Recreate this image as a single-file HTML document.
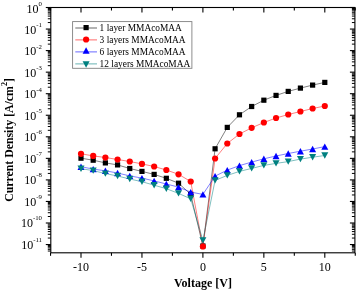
<!DOCTYPE html>
<html><head><meta charset="utf-8"><style>
html,body{margin:0;padding:0;background:#fff;}
svg{display:block;will-change:transform;}
text{font-family:"Liberation Serif",serif;fill:#000;}
</style></head><body>
<svg width="357" height="290" viewBox="0 0 357 290">
<rect width="357" height="290" fill="#fff"/>
<polyline points="81.00,158.20 93.19,160.20 105.38,162.90 117.57,164.90 129.76,168.50 141.95,171.40 154.14,174.40 166.33,178.30 178.52,183.20 190.71,194.30 202.90,246.00 215.09,148.80 227.28,127.40 239.47,114.80 251.66,106.50 263.85,100.20 276.04,95.40 288.23,91.40 300.42,88.10 312.61,85.10 324.80,82.40" fill="none" stroke="#000" stroke-width="0.5"/><rect x="78.40" y="155.60" width="5.2" height="5.2" fill="#000000"/><rect x="90.59" y="157.60" width="5.2" height="5.2" fill="#000000"/><rect x="102.78" y="160.30" width="5.2" height="5.2" fill="#000000"/><rect x="114.97" y="162.30" width="5.2" height="5.2" fill="#000000"/><rect x="127.16" y="165.90" width="5.2" height="5.2" fill="#000000"/><rect x="139.35" y="168.80" width="5.2" height="5.2" fill="#000000"/><rect x="151.54" y="171.80" width="5.2" height="5.2" fill="#000000"/><rect x="163.73" y="175.70" width="5.2" height="5.2" fill="#000000"/><rect x="175.92" y="180.60" width="5.2" height="5.2" fill="#000000"/><rect x="188.11" y="191.70" width="5.2" height="5.2" fill="#000000"/><rect x="200.30" y="243.40" width="5.2" height="5.2" fill="#000000"/><rect x="212.49" y="146.20" width="5.2" height="5.2" fill="#000000"/><rect x="224.68" y="124.80" width="5.2" height="5.2" fill="#000000"/><rect x="236.87" y="112.20" width="5.2" height="5.2" fill="#000000"/><rect x="249.06" y="103.90" width="5.2" height="5.2" fill="#000000"/><rect x="261.25" y="97.60" width="5.2" height="5.2" fill="#000000"/><rect x="273.44" y="92.80" width="5.2" height="5.2" fill="#000000"/><rect x="285.63" y="88.80" width="5.2" height="5.2" fill="#000000"/><rect x="297.82" y="85.50" width="5.2" height="5.2" fill="#000000"/><rect x="310.01" y="82.50" width="5.2" height="5.2" fill="#000000"/><rect x="322.20" y="79.80" width="5.2" height="5.2" fill="#000000"/>
<polyline points="81.00,153.80 93.19,155.90 105.38,157.50 117.57,159.50 129.76,161.50 141.95,163.90 154.14,166.50 166.33,170.00 178.52,174.30 190.71,181.50 202.90,246.50 215.09,158.50 227.28,143.50 239.47,134.00 251.66,127.80 263.85,122.50 276.04,118.00 288.23,114.50 300.42,111.50 312.61,108.50 324.80,106.00" fill="none" stroke="#ff0000" stroke-width="0.5"/><circle cx="81.00" cy="153.80" r="3.1" fill="#ff0000"/><circle cx="93.19" cy="155.90" r="3.1" fill="#ff0000"/><circle cx="105.38" cy="157.50" r="3.1" fill="#ff0000"/><circle cx="117.57" cy="159.50" r="3.1" fill="#ff0000"/><circle cx="129.76" cy="161.50" r="3.1" fill="#ff0000"/><circle cx="141.95" cy="163.90" r="3.1" fill="#ff0000"/><circle cx="154.14" cy="166.50" r="3.1" fill="#ff0000"/><circle cx="166.33" cy="170.00" r="3.1" fill="#ff0000"/><circle cx="178.52" cy="174.30" r="3.1" fill="#ff0000"/><circle cx="190.71" cy="181.50" r="3.1" fill="#ff0000"/><circle cx="202.90" cy="246.50" r="3.1" fill="#ff0000"/><circle cx="215.09" cy="158.50" r="3.1" fill="#ff0000"/><circle cx="227.28" cy="143.50" r="3.1" fill="#ff0000"/><circle cx="239.47" cy="134.00" r="3.1" fill="#ff0000"/><circle cx="251.66" cy="127.80" r="3.1" fill="#ff0000"/><circle cx="263.85" cy="122.50" r="3.1" fill="#ff0000"/><circle cx="276.04" cy="118.00" r="3.1" fill="#ff0000"/><circle cx="288.23" cy="114.50" r="3.1" fill="#ff0000"/><circle cx="300.42" cy="111.50" r="3.1" fill="#ff0000"/><circle cx="312.61" cy="108.50" r="3.1" fill="#ff0000"/><circle cx="324.80" cy="106.00" r="3.1" fill="#ff0000"/>
<polyline points="81.00,166.70 93.19,169.10 105.38,170.80 117.57,173.00 129.76,175.90 141.95,178.10 154.14,180.90 166.33,184.00 178.52,187.10 190.71,192.10 202.90,194.40 215.09,176.10 227.28,170.10 239.47,165.60 251.66,162.10 263.85,158.80 276.04,156.00 288.23,153.50 300.42,151.20 312.61,149.00 324.80,146.60" fill="none" stroke="#0000ff" stroke-width="0.5"/><path d="M81.00 163.50L84.50 169.90L77.50 169.90Z" fill="#0000ff"/><path d="M93.19 165.90L96.69 172.30L89.69 172.30Z" fill="#0000ff"/><path d="M105.38 167.60L108.88 174.00L101.88 174.00Z" fill="#0000ff"/><path d="M117.57 169.80L121.07 176.20L114.07 176.20Z" fill="#0000ff"/><path d="M129.76 172.70L133.26 179.10L126.26 179.10Z" fill="#0000ff"/><path d="M141.95 174.90L145.45 181.30L138.45 181.30Z" fill="#0000ff"/><path d="M154.14 177.70L157.64 184.10L150.64 184.10Z" fill="#0000ff"/><path d="M166.33 180.80L169.83 187.20L162.83 187.20Z" fill="#0000ff"/><path d="M178.52 183.90L182.02 190.30L175.02 190.30Z" fill="#0000ff"/><path d="M190.71 188.90L194.21 195.30L187.21 195.30Z" fill="#0000ff"/><path d="M202.90 191.20L206.40 197.60L199.40 197.60Z" fill="#0000ff"/><path d="M215.09 172.90L218.59 179.30L211.59 179.30Z" fill="#0000ff"/><path d="M227.28 166.90L230.78 173.30L223.78 173.30Z" fill="#0000ff"/><path d="M239.47 162.40L242.97 168.80L235.97 168.80Z" fill="#0000ff"/><path d="M251.66 158.90L255.16 165.30L248.16 165.30Z" fill="#0000ff"/><path d="M263.85 155.60L267.35 162.00L260.35 162.00Z" fill="#0000ff"/><path d="M276.04 152.80L279.54 159.20L272.54 159.20Z" fill="#0000ff"/><path d="M288.23 150.30L291.73 156.70L284.73 156.70Z" fill="#0000ff"/><path d="M300.42 148.00L303.92 154.40L296.92 154.40Z" fill="#0000ff"/><path d="M312.61 145.80L316.11 152.20L309.11 152.20Z" fill="#0000ff"/><path d="M324.80 143.40L328.30 149.80L321.30 149.80Z" fill="#0000ff"/>
<polyline points="81.00,168.70 93.19,170.60 105.38,173.60 117.57,176.00 129.76,179.00 141.95,181.70 154.14,185.20 166.33,188.70 178.52,193.40 190.71,198.80 202.90,240.40 215.09,180.40 227.28,175.40 239.47,171.40 251.66,168.40 263.85,165.40 276.04,163.40 288.23,161.60 300.42,159.10 312.61,157.20 324.80,155.50" fill="none" stroke="#008080" stroke-width="0.5"/><path d="M77.50 165.50L84.50 165.50L81.00 171.90Z" fill="#008080"/><path d="M89.69 167.40L96.69 167.40L93.19 173.80Z" fill="#008080"/><path d="M101.88 170.40L108.88 170.40L105.38 176.80Z" fill="#008080"/><path d="M114.07 172.80L121.07 172.80L117.57 179.20Z" fill="#008080"/><path d="M126.26 175.80L133.26 175.80L129.76 182.20Z" fill="#008080"/><path d="M138.45 178.50L145.45 178.50L141.95 184.90Z" fill="#008080"/><path d="M150.64 182.00L157.64 182.00L154.14 188.40Z" fill="#008080"/><path d="M162.83 185.50L169.83 185.50L166.33 191.90Z" fill="#008080"/><path d="M175.02 190.20L182.02 190.20L178.52 196.60Z" fill="#008080"/><path d="M187.21 195.60L194.21 195.60L190.71 202.00Z" fill="#008080"/><path d="M199.40 237.20L206.40 237.20L202.90 243.60Z" fill="#008080"/><path d="M211.59 177.20L218.59 177.20L215.09 183.60Z" fill="#008080"/><path d="M223.78 172.20L230.78 172.20L227.28 178.60Z" fill="#008080"/><path d="M235.97 168.20L242.97 168.20L239.47 174.60Z" fill="#008080"/><path d="M248.16 165.20L255.16 165.20L251.66 171.60Z" fill="#008080"/><path d="M260.35 162.20L267.35 162.20L263.85 168.60Z" fill="#008080"/><path d="M272.54 160.20L279.54 160.20L276.04 166.60Z" fill="#008080"/><path d="M284.73 158.40L291.73 158.40L288.23 164.80Z" fill="#008080"/><path d="M296.92 155.90L303.92 155.90L300.42 162.30Z" fill="#008080"/><path d="M309.11 154.00L316.11 154.00L312.61 160.40Z" fill="#008080"/><path d="M321.30 152.30L328.30 152.30L324.80 158.70Z" fill="#008080"/>
<rect x="50.80" y="7.50" width="304.10" height="245.30" fill="none" stroke="#000" stroke-width="1.1"/>
<line x1="81.00" y1="252.80" x2="81.00" y2="257.80" stroke="#000" stroke-width="1.1"/>
<line x1="81.00" y1="7.50" x2="81.00" y2="12.50" stroke="#000" stroke-width="1.1"/>
<line x1="141.95" y1="252.80" x2="141.95" y2="257.80" stroke="#000" stroke-width="1.1"/>
<line x1="141.95" y1="7.50" x2="141.95" y2="12.50" stroke="#000" stroke-width="1.1"/>
<line x1="202.90" y1="252.80" x2="202.90" y2="257.80" stroke="#000" stroke-width="1.1"/>
<line x1="202.90" y1="7.50" x2="202.90" y2="12.50" stroke="#000" stroke-width="1.1"/>
<line x1="263.85" y1="252.80" x2="263.85" y2="257.80" stroke="#000" stroke-width="1.1"/>
<line x1="263.85" y1="7.50" x2="263.85" y2="12.50" stroke="#000" stroke-width="1.1"/>
<line x1="324.80" y1="252.80" x2="324.80" y2="257.80" stroke="#000" stroke-width="1.1"/>
<line x1="324.80" y1="7.50" x2="324.80" y2="12.50" stroke="#000" stroke-width="1.1"/>
<line x1="50.53" y1="252.80" x2="50.53" y2="255.80" stroke="#000" stroke-width="1.1"/>
<line x1="50.53" y1="7.50" x2="50.53" y2="10.50" stroke="#000" stroke-width="1.1"/>
<line x1="111.48" y1="252.80" x2="111.48" y2="255.80" stroke="#000" stroke-width="1.1"/>
<line x1="111.48" y1="7.50" x2="111.48" y2="10.50" stroke="#000" stroke-width="1.1"/>
<line x1="172.43" y1="252.80" x2="172.43" y2="255.80" stroke="#000" stroke-width="1.1"/>
<line x1="172.43" y1="7.50" x2="172.43" y2="10.50" stroke="#000" stroke-width="1.1"/>
<line x1="233.38" y1="252.80" x2="233.38" y2="255.80" stroke="#000" stroke-width="1.1"/>
<line x1="233.38" y1="7.50" x2="233.38" y2="10.50" stroke="#000" stroke-width="1.1"/>
<line x1="294.32" y1="252.80" x2="294.32" y2="255.80" stroke="#000" stroke-width="1.1"/>
<line x1="294.32" y1="7.50" x2="294.32" y2="10.50" stroke="#000" stroke-width="1.1"/>
<line x1="355.27" y1="252.80" x2="355.27" y2="255.80" stroke="#000" stroke-width="1.1"/>
<line x1="355.27" y1="7.50" x2="355.27" y2="10.50" stroke="#000" stroke-width="1.1"/>
<line x1="45.80" y1="7.50" x2="50.80" y2="7.50" stroke="#000" stroke-width="1.1"/>
<line x1="349.90" y1="7.50" x2="354.90" y2="7.50" stroke="#000" stroke-width="1.1"/>
<line x1="45.80" y1="29.05" x2="50.80" y2="29.05" stroke="#000" stroke-width="1.1"/>
<line x1="349.90" y1="29.05" x2="354.90" y2="29.05" stroke="#000" stroke-width="1.1"/>
<line x1="45.80" y1="50.60" x2="50.80" y2="50.60" stroke="#000" stroke-width="1.1"/>
<line x1="349.90" y1="50.60" x2="354.90" y2="50.60" stroke="#000" stroke-width="1.1"/>
<line x1="45.80" y1="72.15" x2="50.80" y2="72.15" stroke="#000" stroke-width="1.1"/>
<line x1="349.90" y1="72.15" x2="354.90" y2="72.15" stroke="#000" stroke-width="1.1"/>
<line x1="45.80" y1="93.70" x2="50.80" y2="93.70" stroke="#000" stroke-width="1.1"/>
<line x1="349.90" y1="93.70" x2="354.90" y2="93.70" stroke="#000" stroke-width="1.1"/>
<line x1="45.80" y1="115.25" x2="50.80" y2="115.25" stroke="#000" stroke-width="1.1"/>
<line x1="349.90" y1="115.25" x2="354.90" y2="115.25" stroke="#000" stroke-width="1.1"/>
<line x1="45.80" y1="136.80" x2="50.80" y2="136.80" stroke="#000" stroke-width="1.1"/>
<line x1="349.90" y1="136.80" x2="354.90" y2="136.80" stroke="#000" stroke-width="1.1"/>
<line x1="45.80" y1="158.35" x2="50.80" y2="158.35" stroke="#000" stroke-width="1.1"/>
<line x1="349.90" y1="158.35" x2="354.90" y2="158.35" stroke="#000" stroke-width="1.1"/>
<line x1="45.80" y1="179.90" x2="50.80" y2="179.90" stroke="#000" stroke-width="1.1"/>
<line x1="349.90" y1="179.90" x2="354.90" y2="179.90" stroke="#000" stroke-width="1.1"/>
<line x1="45.80" y1="201.45" x2="50.80" y2="201.45" stroke="#000" stroke-width="1.1"/>
<line x1="349.90" y1="201.45" x2="354.90" y2="201.45" stroke="#000" stroke-width="1.1"/>
<line x1="45.80" y1="223.00" x2="50.80" y2="223.00" stroke="#000" stroke-width="1.1"/>
<line x1="349.90" y1="223.00" x2="354.90" y2="223.00" stroke="#000" stroke-width="1.1"/>
<line x1="45.80" y1="244.55" x2="50.80" y2="244.55" stroke="#000" stroke-width="1.1"/>
<line x1="349.90" y1="244.55" x2="354.90" y2="244.55" stroke="#000" stroke-width="1.1"/>
<line x1="47.80" y1="22.56" x2="50.80" y2="22.56" stroke="#000" stroke-width="1"/>
<line x1="351.90" y1="22.56" x2="354.90" y2="22.56" stroke="#000" stroke-width="1"/>
<line x1="47.80" y1="18.77" x2="50.80" y2="18.77" stroke="#000" stroke-width="1"/>
<line x1="351.90" y1="18.77" x2="354.90" y2="18.77" stroke="#000" stroke-width="1"/>
<line x1="47.80" y1="16.08" x2="50.80" y2="16.08" stroke="#000" stroke-width="1"/>
<line x1="351.90" y1="16.08" x2="354.90" y2="16.08" stroke="#000" stroke-width="1"/>
<line x1="47.80" y1="13.99" x2="50.80" y2="13.99" stroke="#000" stroke-width="1"/>
<line x1="351.90" y1="13.99" x2="354.90" y2="13.99" stroke="#000" stroke-width="1"/>
<line x1="47.80" y1="12.28" x2="50.80" y2="12.28" stroke="#000" stroke-width="1"/>
<line x1="351.90" y1="12.28" x2="354.90" y2="12.28" stroke="#000" stroke-width="1"/>
<line x1="47.80" y1="10.84" x2="50.80" y2="10.84" stroke="#000" stroke-width="1"/>
<line x1="351.90" y1="10.84" x2="354.90" y2="10.84" stroke="#000" stroke-width="1"/>
<line x1="47.80" y1="9.59" x2="50.80" y2="9.59" stroke="#000" stroke-width="1"/>
<line x1="351.90" y1="9.59" x2="354.90" y2="9.59" stroke="#000" stroke-width="1"/>
<line x1="47.80" y1="8.49" x2="50.80" y2="8.49" stroke="#000" stroke-width="1"/>
<line x1="351.90" y1="8.49" x2="354.90" y2="8.49" stroke="#000" stroke-width="1"/>
<line x1="47.80" y1="44.11" x2="50.80" y2="44.11" stroke="#000" stroke-width="1"/>
<line x1="351.90" y1="44.11" x2="354.90" y2="44.11" stroke="#000" stroke-width="1"/>
<line x1="47.80" y1="40.32" x2="50.80" y2="40.32" stroke="#000" stroke-width="1"/>
<line x1="351.90" y1="40.32" x2="354.90" y2="40.32" stroke="#000" stroke-width="1"/>
<line x1="47.80" y1="37.63" x2="50.80" y2="37.63" stroke="#000" stroke-width="1"/>
<line x1="351.90" y1="37.63" x2="354.90" y2="37.63" stroke="#000" stroke-width="1"/>
<line x1="47.80" y1="35.54" x2="50.80" y2="35.54" stroke="#000" stroke-width="1"/>
<line x1="351.90" y1="35.54" x2="354.90" y2="35.54" stroke="#000" stroke-width="1"/>
<line x1="47.80" y1="33.83" x2="50.80" y2="33.83" stroke="#000" stroke-width="1"/>
<line x1="351.90" y1="33.83" x2="354.90" y2="33.83" stroke="#000" stroke-width="1"/>
<line x1="47.80" y1="32.39" x2="50.80" y2="32.39" stroke="#000" stroke-width="1"/>
<line x1="351.90" y1="32.39" x2="354.90" y2="32.39" stroke="#000" stroke-width="1"/>
<line x1="47.80" y1="31.14" x2="50.80" y2="31.14" stroke="#000" stroke-width="1"/>
<line x1="351.90" y1="31.14" x2="354.90" y2="31.14" stroke="#000" stroke-width="1"/>
<line x1="47.80" y1="30.04" x2="50.80" y2="30.04" stroke="#000" stroke-width="1"/>
<line x1="351.90" y1="30.04" x2="354.90" y2="30.04" stroke="#000" stroke-width="1"/>
<line x1="47.80" y1="65.66" x2="50.80" y2="65.66" stroke="#000" stroke-width="1"/>
<line x1="351.90" y1="65.66" x2="354.90" y2="65.66" stroke="#000" stroke-width="1"/>
<line x1="47.80" y1="61.87" x2="50.80" y2="61.87" stroke="#000" stroke-width="1"/>
<line x1="351.90" y1="61.87" x2="354.90" y2="61.87" stroke="#000" stroke-width="1"/>
<line x1="47.80" y1="59.18" x2="50.80" y2="59.18" stroke="#000" stroke-width="1"/>
<line x1="351.90" y1="59.18" x2="354.90" y2="59.18" stroke="#000" stroke-width="1"/>
<line x1="47.80" y1="57.09" x2="50.80" y2="57.09" stroke="#000" stroke-width="1"/>
<line x1="351.90" y1="57.09" x2="354.90" y2="57.09" stroke="#000" stroke-width="1"/>
<line x1="47.80" y1="55.38" x2="50.80" y2="55.38" stroke="#000" stroke-width="1"/>
<line x1="351.90" y1="55.38" x2="354.90" y2="55.38" stroke="#000" stroke-width="1"/>
<line x1="47.80" y1="53.94" x2="50.80" y2="53.94" stroke="#000" stroke-width="1"/>
<line x1="351.90" y1="53.94" x2="354.90" y2="53.94" stroke="#000" stroke-width="1"/>
<line x1="47.80" y1="52.69" x2="50.80" y2="52.69" stroke="#000" stroke-width="1"/>
<line x1="351.90" y1="52.69" x2="354.90" y2="52.69" stroke="#000" stroke-width="1"/>
<line x1="47.80" y1="51.59" x2="50.80" y2="51.59" stroke="#000" stroke-width="1"/>
<line x1="351.90" y1="51.59" x2="354.90" y2="51.59" stroke="#000" stroke-width="1"/>
<line x1="47.80" y1="87.21" x2="50.80" y2="87.21" stroke="#000" stroke-width="1"/>
<line x1="351.90" y1="87.21" x2="354.90" y2="87.21" stroke="#000" stroke-width="1"/>
<line x1="47.80" y1="83.42" x2="50.80" y2="83.42" stroke="#000" stroke-width="1"/>
<line x1="351.90" y1="83.42" x2="354.90" y2="83.42" stroke="#000" stroke-width="1"/>
<line x1="47.80" y1="80.73" x2="50.80" y2="80.73" stroke="#000" stroke-width="1"/>
<line x1="351.90" y1="80.73" x2="354.90" y2="80.73" stroke="#000" stroke-width="1"/>
<line x1="47.80" y1="78.64" x2="50.80" y2="78.64" stroke="#000" stroke-width="1"/>
<line x1="351.90" y1="78.64" x2="354.90" y2="78.64" stroke="#000" stroke-width="1"/>
<line x1="47.80" y1="76.93" x2="50.80" y2="76.93" stroke="#000" stroke-width="1"/>
<line x1="351.90" y1="76.93" x2="354.90" y2="76.93" stroke="#000" stroke-width="1"/>
<line x1="47.80" y1="75.49" x2="50.80" y2="75.49" stroke="#000" stroke-width="1"/>
<line x1="351.90" y1="75.49" x2="354.90" y2="75.49" stroke="#000" stroke-width="1"/>
<line x1="47.80" y1="74.24" x2="50.80" y2="74.24" stroke="#000" stroke-width="1"/>
<line x1="351.90" y1="74.24" x2="354.90" y2="74.24" stroke="#000" stroke-width="1"/>
<line x1="47.80" y1="73.14" x2="50.80" y2="73.14" stroke="#000" stroke-width="1"/>
<line x1="351.90" y1="73.14" x2="354.90" y2="73.14" stroke="#000" stroke-width="1"/>
<line x1="47.80" y1="108.76" x2="50.80" y2="108.76" stroke="#000" stroke-width="1"/>
<line x1="351.90" y1="108.76" x2="354.90" y2="108.76" stroke="#000" stroke-width="1"/>
<line x1="47.80" y1="104.97" x2="50.80" y2="104.97" stroke="#000" stroke-width="1"/>
<line x1="351.90" y1="104.97" x2="354.90" y2="104.97" stroke="#000" stroke-width="1"/>
<line x1="47.80" y1="102.28" x2="50.80" y2="102.28" stroke="#000" stroke-width="1"/>
<line x1="351.90" y1="102.28" x2="354.90" y2="102.28" stroke="#000" stroke-width="1"/>
<line x1="47.80" y1="100.19" x2="50.80" y2="100.19" stroke="#000" stroke-width="1"/>
<line x1="351.90" y1="100.19" x2="354.90" y2="100.19" stroke="#000" stroke-width="1"/>
<line x1="47.80" y1="98.48" x2="50.80" y2="98.48" stroke="#000" stroke-width="1"/>
<line x1="351.90" y1="98.48" x2="354.90" y2="98.48" stroke="#000" stroke-width="1"/>
<line x1="47.80" y1="97.04" x2="50.80" y2="97.04" stroke="#000" stroke-width="1"/>
<line x1="351.90" y1="97.04" x2="354.90" y2="97.04" stroke="#000" stroke-width="1"/>
<line x1="47.80" y1="95.79" x2="50.80" y2="95.79" stroke="#000" stroke-width="1"/>
<line x1="351.90" y1="95.79" x2="354.90" y2="95.79" stroke="#000" stroke-width="1"/>
<line x1="47.80" y1="94.69" x2="50.80" y2="94.69" stroke="#000" stroke-width="1"/>
<line x1="351.90" y1="94.69" x2="354.90" y2="94.69" stroke="#000" stroke-width="1"/>
<line x1="47.80" y1="130.31" x2="50.80" y2="130.31" stroke="#000" stroke-width="1"/>
<line x1="351.90" y1="130.31" x2="354.90" y2="130.31" stroke="#000" stroke-width="1"/>
<line x1="47.80" y1="126.52" x2="50.80" y2="126.52" stroke="#000" stroke-width="1"/>
<line x1="351.90" y1="126.52" x2="354.90" y2="126.52" stroke="#000" stroke-width="1"/>
<line x1="47.80" y1="123.83" x2="50.80" y2="123.83" stroke="#000" stroke-width="1"/>
<line x1="351.90" y1="123.83" x2="354.90" y2="123.83" stroke="#000" stroke-width="1"/>
<line x1="47.80" y1="121.74" x2="50.80" y2="121.74" stroke="#000" stroke-width="1"/>
<line x1="351.90" y1="121.74" x2="354.90" y2="121.74" stroke="#000" stroke-width="1"/>
<line x1="47.80" y1="120.03" x2="50.80" y2="120.03" stroke="#000" stroke-width="1"/>
<line x1="351.90" y1="120.03" x2="354.90" y2="120.03" stroke="#000" stroke-width="1"/>
<line x1="47.80" y1="118.59" x2="50.80" y2="118.59" stroke="#000" stroke-width="1"/>
<line x1="351.90" y1="118.59" x2="354.90" y2="118.59" stroke="#000" stroke-width="1"/>
<line x1="47.80" y1="117.34" x2="50.80" y2="117.34" stroke="#000" stroke-width="1"/>
<line x1="351.90" y1="117.34" x2="354.90" y2="117.34" stroke="#000" stroke-width="1"/>
<line x1="47.80" y1="116.24" x2="50.80" y2="116.24" stroke="#000" stroke-width="1"/>
<line x1="351.90" y1="116.24" x2="354.90" y2="116.24" stroke="#000" stroke-width="1"/>
<line x1="47.80" y1="151.86" x2="50.80" y2="151.86" stroke="#000" stroke-width="1"/>
<line x1="351.90" y1="151.86" x2="354.90" y2="151.86" stroke="#000" stroke-width="1"/>
<line x1="47.80" y1="148.07" x2="50.80" y2="148.07" stroke="#000" stroke-width="1"/>
<line x1="351.90" y1="148.07" x2="354.90" y2="148.07" stroke="#000" stroke-width="1"/>
<line x1="47.80" y1="145.38" x2="50.80" y2="145.38" stroke="#000" stroke-width="1"/>
<line x1="351.90" y1="145.38" x2="354.90" y2="145.38" stroke="#000" stroke-width="1"/>
<line x1="47.80" y1="143.29" x2="50.80" y2="143.29" stroke="#000" stroke-width="1"/>
<line x1="351.90" y1="143.29" x2="354.90" y2="143.29" stroke="#000" stroke-width="1"/>
<line x1="47.80" y1="141.58" x2="50.80" y2="141.58" stroke="#000" stroke-width="1"/>
<line x1="351.90" y1="141.58" x2="354.90" y2="141.58" stroke="#000" stroke-width="1"/>
<line x1="47.80" y1="140.14" x2="50.80" y2="140.14" stroke="#000" stroke-width="1"/>
<line x1="351.90" y1="140.14" x2="354.90" y2="140.14" stroke="#000" stroke-width="1"/>
<line x1="47.80" y1="138.89" x2="50.80" y2="138.89" stroke="#000" stroke-width="1"/>
<line x1="351.90" y1="138.89" x2="354.90" y2="138.89" stroke="#000" stroke-width="1"/>
<line x1="47.80" y1="137.79" x2="50.80" y2="137.79" stroke="#000" stroke-width="1"/>
<line x1="351.90" y1="137.79" x2="354.90" y2="137.79" stroke="#000" stroke-width="1"/>
<line x1="47.80" y1="173.41" x2="50.80" y2="173.41" stroke="#000" stroke-width="1"/>
<line x1="351.90" y1="173.41" x2="354.90" y2="173.41" stroke="#000" stroke-width="1"/>
<line x1="47.80" y1="169.62" x2="50.80" y2="169.62" stroke="#000" stroke-width="1"/>
<line x1="351.90" y1="169.62" x2="354.90" y2="169.62" stroke="#000" stroke-width="1"/>
<line x1="47.80" y1="166.93" x2="50.80" y2="166.93" stroke="#000" stroke-width="1"/>
<line x1="351.90" y1="166.93" x2="354.90" y2="166.93" stroke="#000" stroke-width="1"/>
<line x1="47.80" y1="164.84" x2="50.80" y2="164.84" stroke="#000" stroke-width="1"/>
<line x1="351.90" y1="164.84" x2="354.90" y2="164.84" stroke="#000" stroke-width="1"/>
<line x1="47.80" y1="163.13" x2="50.80" y2="163.13" stroke="#000" stroke-width="1"/>
<line x1="351.90" y1="163.13" x2="354.90" y2="163.13" stroke="#000" stroke-width="1"/>
<line x1="47.80" y1="161.69" x2="50.80" y2="161.69" stroke="#000" stroke-width="1"/>
<line x1="351.90" y1="161.69" x2="354.90" y2="161.69" stroke="#000" stroke-width="1"/>
<line x1="47.80" y1="160.44" x2="50.80" y2="160.44" stroke="#000" stroke-width="1"/>
<line x1="351.90" y1="160.44" x2="354.90" y2="160.44" stroke="#000" stroke-width="1"/>
<line x1="47.80" y1="159.34" x2="50.80" y2="159.34" stroke="#000" stroke-width="1"/>
<line x1="351.90" y1="159.34" x2="354.90" y2="159.34" stroke="#000" stroke-width="1"/>
<line x1="47.80" y1="194.96" x2="50.80" y2="194.96" stroke="#000" stroke-width="1"/>
<line x1="351.90" y1="194.96" x2="354.90" y2="194.96" stroke="#000" stroke-width="1"/>
<line x1="47.80" y1="191.17" x2="50.80" y2="191.17" stroke="#000" stroke-width="1"/>
<line x1="351.90" y1="191.17" x2="354.90" y2="191.17" stroke="#000" stroke-width="1"/>
<line x1="47.80" y1="188.48" x2="50.80" y2="188.48" stroke="#000" stroke-width="1"/>
<line x1="351.90" y1="188.48" x2="354.90" y2="188.48" stroke="#000" stroke-width="1"/>
<line x1="47.80" y1="186.39" x2="50.80" y2="186.39" stroke="#000" stroke-width="1"/>
<line x1="351.90" y1="186.39" x2="354.90" y2="186.39" stroke="#000" stroke-width="1"/>
<line x1="47.80" y1="184.68" x2="50.80" y2="184.68" stroke="#000" stroke-width="1"/>
<line x1="351.90" y1="184.68" x2="354.90" y2="184.68" stroke="#000" stroke-width="1"/>
<line x1="47.80" y1="183.24" x2="50.80" y2="183.24" stroke="#000" stroke-width="1"/>
<line x1="351.90" y1="183.24" x2="354.90" y2="183.24" stroke="#000" stroke-width="1"/>
<line x1="47.80" y1="181.99" x2="50.80" y2="181.99" stroke="#000" stroke-width="1"/>
<line x1="351.90" y1="181.99" x2="354.90" y2="181.99" stroke="#000" stroke-width="1"/>
<line x1="47.80" y1="180.89" x2="50.80" y2="180.89" stroke="#000" stroke-width="1"/>
<line x1="351.90" y1="180.89" x2="354.90" y2="180.89" stroke="#000" stroke-width="1"/>
<line x1="47.80" y1="216.51" x2="50.80" y2="216.51" stroke="#000" stroke-width="1"/>
<line x1="351.90" y1="216.51" x2="354.90" y2="216.51" stroke="#000" stroke-width="1"/>
<line x1="47.80" y1="212.72" x2="50.80" y2="212.72" stroke="#000" stroke-width="1"/>
<line x1="351.90" y1="212.72" x2="354.90" y2="212.72" stroke="#000" stroke-width="1"/>
<line x1="47.80" y1="210.03" x2="50.80" y2="210.03" stroke="#000" stroke-width="1"/>
<line x1="351.90" y1="210.03" x2="354.90" y2="210.03" stroke="#000" stroke-width="1"/>
<line x1="47.80" y1="207.94" x2="50.80" y2="207.94" stroke="#000" stroke-width="1"/>
<line x1="351.90" y1="207.94" x2="354.90" y2="207.94" stroke="#000" stroke-width="1"/>
<line x1="47.80" y1="206.23" x2="50.80" y2="206.23" stroke="#000" stroke-width="1"/>
<line x1="351.90" y1="206.23" x2="354.90" y2="206.23" stroke="#000" stroke-width="1"/>
<line x1="47.80" y1="204.79" x2="50.80" y2="204.79" stroke="#000" stroke-width="1"/>
<line x1="351.90" y1="204.79" x2="354.90" y2="204.79" stroke="#000" stroke-width="1"/>
<line x1="47.80" y1="203.54" x2="50.80" y2="203.54" stroke="#000" stroke-width="1"/>
<line x1="351.90" y1="203.54" x2="354.90" y2="203.54" stroke="#000" stroke-width="1"/>
<line x1="47.80" y1="202.44" x2="50.80" y2="202.44" stroke="#000" stroke-width="1"/>
<line x1="351.90" y1="202.44" x2="354.90" y2="202.44" stroke="#000" stroke-width="1"/>
<line x1="47.80" y1="238.06" x2="50.80" y2="238.06" stroke="#000" stroke-width="1"/>
<line x1="351.90" y1="238.06" x2="354.90" y2="238.06" stroke="#000" stroke-width="1"/>
<line x1="47.80" y1="234.27" x2="50.80" y2="234.27" stroke="#000" stroke-width="1"/>
<line x1="351.90" y1="234.27" x2="354.90" y2="234.27" stroke="#000" stroke-width="1"/>
<line x1="47.80" y1="231.58" x2="50.80" y2="231.58" stroke="#000" stroke-width="1"/>
<line x1="351.90" y1="231.58" x2="354.90" y2="231.58" stroke="#000" stroke-width="1"/>
<line x1="47.80" y1="229.49" x2="50.80" y2="229.49" stroke="#000" stroke-width="1"/>
<line x1="351.90" y1="229.49" x2="354.90" y2="229.49" stroke="#000" stroke-width="1"/>
<line x1="47.80" y1="227.78" x2="50.80" y2="227.78" stroke="#000" stroke-width="1"/>
<line x1="351.90" y1="227.78" x2="354.90" y2="227.78" stroke="#000" stroke-width="1"/>
<line x1="47.80" y1="226.34" x2="50.80" y2="226.34" stroke="#000" stroke-width="1"/>
<line x1="351.90" y1="226.34" x2="354.90" y2="226.34" stroke="#000" stroke-width="1"/>
<line x1="47.80" y1="225.09" x2="50.80" y2="225.09" stroke="#000" stroke-width="1"/>
<line x1="351.90" y1="225.09" x2="354.90" y2="225.09" stroke="#000" stroke-width="1"/>
<line x1="47.80" y1="223.99" x2="50.80" y2="223.99" stroke="#000" stroke-width="1"/>
<line x1="351.90" y1="223.99" x2="354.90" y2="223.99" stroke="#000" stroke-width="1"/>
<line x1="47.80" y1="251.04" x2="50.80" y2="251.04" stroke="#000" stroke-width="1"/>
<line x1="351.90" y1="251.04" x2="354.90" y2="251.04" stroke="#000" stroke-width="1"/>
<line x1="47.80" y1="249.33" x2="50.80" y2="249.33" stroke="#000" stroke-width="1"/>
<line x1="351.90" y1="249.33" x2="354.90" y2="249.33" stroke="#000" stroke-width="1"/>
<line x1="47.80" y1="247.89" x2="50.80" y2="247.89" stroke="#000" stroke-width="1"/>
<line x1="351.90" y1="247.89" x2="354.90" y2="247.89" stroke="#000" stroke-width="1"/>
<line x1="47.80" y1="246.64" x2="50.80" y2="246.64" stroke="#000" stroke-width="1"/>
<line x1="351.90" y1="246.64" x2="354.90" y2="246.64" stroke="#000" stroke-width="1"/>
<line x1="47.80" y1="245.54" x2="50.80" y2="245.54" stroke="#000" stroke-width="1"/>
<line x1="351.90" y1="245.54" x2="354.90" y2="245.54" stroke="#000" stroke-width="1"/>
<rect x="72.6" y="21.6" width="119.30000000000001" height="46.699999999999996" fill="#fff" stroke="#808080" stroke-width="0.9"/>
<line x1="75.3" y1="28.00" x2="97" y2="28.00" stroke="#000" stroke-width="0.6"/>
<rect x="83.50" y="25.00" width="5.2" height="5.2" fill="#000000"/>
<text x="99.6" y="30.80" font-size="9.4">1 layer MMAcoMAA</text>
<line x1="75.3" y1="39.90" x2="97" y2="39.90" stroke="#ff0000" stroke-width="0.6"/>
<circle cx="86.10" cy="39.50" r="3.1" fill="#ff0000"/>
<text x="99.6" y="42.70" font-size="9.4">3 layers MMAcoMAA</text>
<line x1="75.3" y1="51.90" x2="97" y2="51.90" stroke="#0000ff" stroke-width="0.6"/>
<path d="M86.10 47.27L89.60 53.67L82.60 53.67Z" fill="#0000ff"/>
<text x="99.6" y="54.70" font-size="9.4">6 layers MMAcoMAA</text>
<line x1="75.3" y1="63.90" x2="97" y2="63.90" stroke="#008080" stroke-width="0.6"/>
<path d="M82.60 61.33L89.60 61.33L86.10 67.73Z" fill="#008080"/>
<text x="99.6" y="66.70" font-size="9.4">12 layers MMAcoMAA</text>
<text x="81.00" y="270.6" text-anchor="middle" font-size="12">-10</text>
<text x="141.95" y="270.6" text-anchor="middle" font-size="12">-5</text>
<text x="202.90" y="270.6" text-anchor="middle" font-size="12">0</text>
<text x="263.85" y="270.6" text-anchor="middle" font-size="12">5</text>
<text x="324.80" y="270.6" text-anchor="middle" font-size="12">10</text>
<text x="42.0" y="12.50" text-anchor="end" font-size="12">10<tspan font-size="6.8" dy="-6.8">0</tspan></text>
<text x="42.0" y="33.96" text-anchor="end" font-size="12">10<tspan font-size="6.8" dy="-6.8">-1</tspan></text>
<text x="42.0" y="55.42" text-anchor="end" font-size="12">10<tspan font-size="6.8" dy="-6.8">-2</tspan></text>
<text x="42.0" y="76.88" text-anchor="end" font-size="12">10<tspan font-size="6.8" dy="-6.8">-3</tspan></text>
<text x="42.0" y="98.34" text-anchor="end" font-size="12">10<tspan font-size="6.8" dy="-6.8">-4</tspan></text>
<text x="42.0" y="119.80" text-anchor="end" font-size="12">10<tspan font-size="6.8" dy="-6.8">-5</tspan></text>
<text x="42.0" y="141.26" text-anchor="end" font-size="12">10<tspan font-size="6.8" dy="-6.8">-6</tspan></text>
<text x="42.0" y="162.72" text-anchor="end" font-size="12">10<tspan font-size="6.8" dy="-6.8">-7</tspan></text>
<text x="42.0" y="184.18" text-anchor="end" font-size="12">10<tspan font-size="6.8" dy="-6.8">-8</tspan></text>
<text x="42.0" y="205.64" text-anchor="end" font-size="12">10<tspan font-size="6.8" dy="-6.8">-9</tspan></text>
<text x="42.0" y="227.10" text-anchor="end" font-size="12">10<tspan font-size="6.8" dy="-6.8">-10</tspan></text>
<text x="42.0" y="248.56" text-anchor="end" font-size="12">10<tspan font-size="6.8" dy="-6.8">-11</tspan></text>
<text x="203.0" y="286.9" text-anchor="middle" font-size="12" font-weight="bold">Voltage [V]</text>
<text transform="translate(13.1 140) rotate(-90)" text-anchor="middle" font-size="11.8" font-weight="bold">Current Density [A/cm<tspan font-size="8" dy="-6">2</tspan><tspan dy="6">]</tspan></text>
</svg>
</body></html>
